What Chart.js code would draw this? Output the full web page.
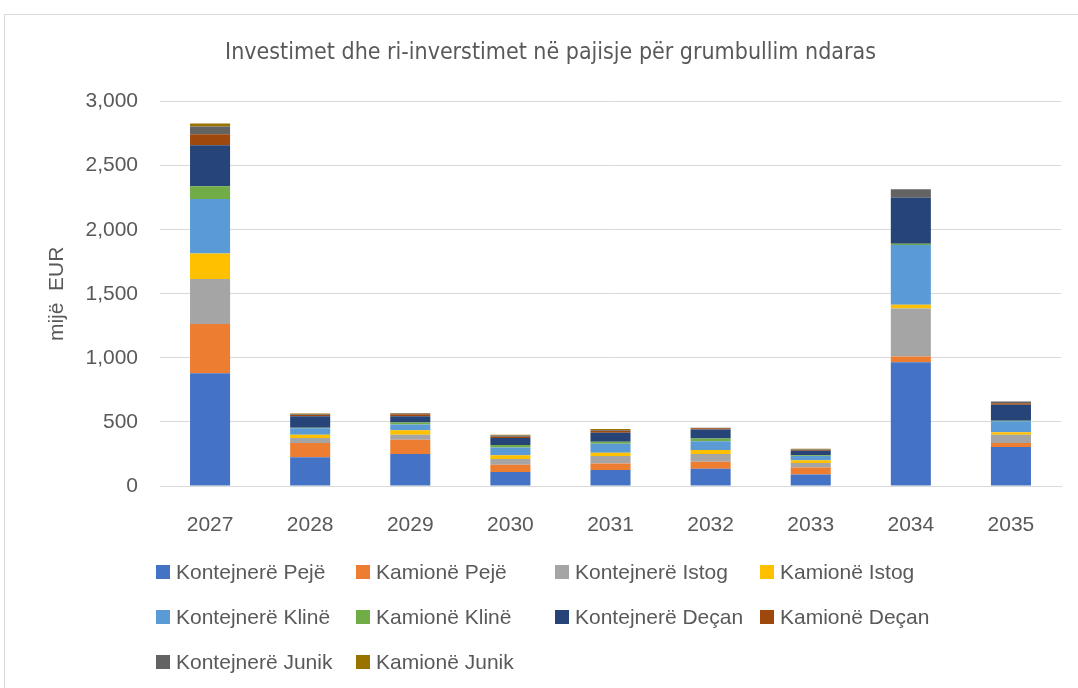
<!DOCTYPE html>
<html>
<head>
<meta charset="utf-8">
<script src="https://cdn.jsdelivr.net/npm/chart.js@4/dist/chart.umd.min.js"></script>
<style>
  html, body { margin: 0; padding: 0; background: #ffffff; overflow: hidden; }
  body { width: 1078px; height: 688px; position: relative; font-family: "Liberation Sans", Arial, sans-serif; }
  #frame { position: absolute; left: 4px; top: 14px; width: 1090px; height: 690px; border: 1px solid #d9d9d9; box-sizing: border-box; }
  #c { position: absolute; left: 0; top: 0; }
  #legend { position: absolute; left: 156px; top: 560px; width: 910px; }
  .item { position: absolute; display: flex; align-items: center; font-size: 21px; color: #595959; white-space: nowrap; height: 24px; }
  .box { width: 14px; height: 14px; margin-right: 6px; flex: none; }
</style>
</head>
<body>
<div id="frame"></div>
<canvas id="c" width="1078" height="688"></canvas>
<div id="legend"></div>
<script>
const categories = ["2027","2028","2029","2030","2031","2032","2033","2034","2035"];
const seriesNames = ["Kontejnerë Pejë","Kamionë Pejë","Kontejnerë Istog","Kamionë Istog","Kontejnerë Klinë","Kamionë Klinë","Kontejnerë Deçan","Kamionë Deçan","Kontejnerë Junik","Kamionë Junik"];
const kontejnerePeje  = [880, 225, 250, 110, 125, 135,  90, 965, 305];
const kamionePeje     = [385, 110, 110,  55,  50,  55,  55,  45,  30];
const kontejnereIstog = [350,  40,  40,  45,  60,  60,  35, 375,  65];
const kamioneIstog    = [200,  25,  35,  30,  25,  30,  20,  30,  20];
const kontejnereKline = [425,  50,  45,  60,  70,  70,  35, 465,  85];
const kamioneKline    = [100,   5,  15,  20,  15,  20,   5,  10,   5];
const kontejnereDecan = [320,  90,  50,  55,  70,  70,  35, 360, 125];
const kamioneDecan    = [ 85,  10,  15,  10,  15,  10,   5,   0,  10];
const kontejnereJunik = [ 60,   5,   5,  10,   5,   5,   5,  65,  15];
const kamioneJunik    = [ 25,   5,   5,   5,  10,   0,   5,   0,   0];
const yTicks = [0, 500, 1000, 1500, 2000, 2500, 3000];
const colors = ["#4472C4","#ED7D31","#A5A5A5","#FFC000","#5B9BD5","#70AD47","#264478","#9E480E","#636363","#997300"];

const seriesValues = [kontejnerePeje, kamionePeje, kontejnereIstog, kamioneIstog, kontejnereKline, kamioneKline, kontejnereDecan, kamioneDecan, kontejnereJunik, kamioneJunik];
const FONT = "'Liberation Sans', Arial, sans-serif";
const TXT = "#595959";

const datasets = seriesNames.map((name, i) => ({
  label: name,
  data: seriesValues[i],
  backgroundColor: colors[i],
  borderWidth: 0,
  categoryPercentage: 1.0,
  barPercentage: 0.4
}));

const chart = new Chart(document.getElementById('c'), {
  type: 'bar',
  data: { labels: categories, datasets },
  options: {
    responsive: false,
    animation: false,
    devicePixelRatio: 1,
    layout: { padding: { left: 40, right: 17, top: 0, bottom: 0 } },
    plugins: {
      legend: { display: false },
      tooltip: { enabled: false },
      title: {
        display: true,
        text: "Investimet dhe ri-inverstimet në pajisje për grumbullim ndaras",
        color: TXT,
        font: { family: "'Liberation Sans Narrow', 'DejaVu Sans Condensed', " + FONT, size: 23, weight: 'normal', lineHeight: 1.2 },
        padding: { top: 39, bottom: 35 }
      }
    },
    scales: {
      x: {
        stacked: true,
        grid: { display: false },
        border: { display: true, color: '#d9d9d9' },
        ticks: { color: TXT, font: { family: FONT, size: 21 }, padding: 19 },
        afterFit: s => { s.height = 202; }
      },
      y: {
        stacked: true,
        min: 0, max: 3000,
        afterBuildTicks: s => { s.ticks = yTicks.map(v => ({ value: v })); },
        grid: { color: '#d9d9d9', drawTicks: false },
        border: { display: false },
        ticks: {
          color: TXT, font: { family: FONT, size: 21 }, padding: 22,
          callback: v => v.toLocaleString('en-US')
        },
        title: { display: true, text: "mijë  EUR", color: TXT, font: { family: FONT, size: 21 }, padding: { top: 5, bottom: 0 } },
        afterFit: s => { s.width = 120; }
      }
    }
  }
});

// HTML legend built from the chart's datasets
const legend = document.getElementById('legend');
const colX = [0, 200, 399, 604];
const rowY = [0, 45, 90];
chart.data.datasets.forEach((ds, i) => {
  const el = document.createElement('div');
  el.className = 'item';
  el.style.left = colX[i % 4] + 'px';
  el.style.top = rowY[Math.floor(i / 4)] + 'px';
  const b = document.createElement('span');
  b.className = 'box';
  b.style.background = ds.backgroundColor;
  const t = document.createElement('span');
  t.textContent = ds.label;
  el.appendChild(b); el.appendChild(t);
  legend.appendChild(el);
});
</script>
</body>
</html>
